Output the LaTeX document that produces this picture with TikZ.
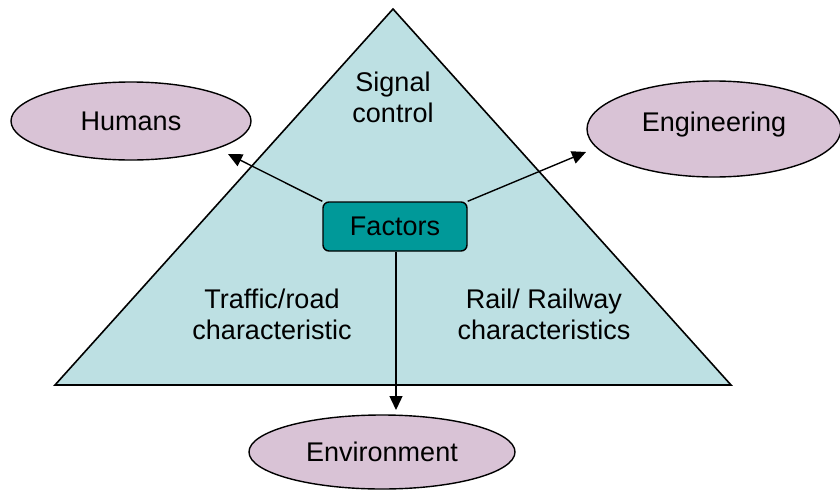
\documentclass[tikz,border=0pt]{standalone}
\usepackage{fontspec}
\setmainfont{Liberation Sans}
\usetikzlibrary{shapes.geometric,arrows.meta}
\definecolor{tri}{HTML}{BDE0E3}
\definecolor{ell}{HTML}{D9C3D6}
\definecolor{box}{HTML}{009999}
\tikzset{
  ellnode/.style={ellipse,draw=black,line width=1.4pt,fill=ell,minimum width=#1,font=\fontsize{27}{31}\selectfont,inner sep=0pt},
  arr/.style={line width=1.4pt,-{Triangle[length=14pt,width=13pt]}},
  lbl/.style={align=center,font=\fontsize{27}{31}\selectfont}
}
\begin{document}
\begin{tikzpicture}[x=1pt,y=-1pt]
\useasboundingbox (0,0) rectangle (840,490);
\coordinate (A) at (393,9);
\coordinate (B) at (55,385);
\coordinate (C) at (731,385);
\draw[line width=1.6pt,fill=tri] (A) -- (B) -- (C) -- cycle;
\node[ellnode=240pt,minimum height=78pt] (hum) at (131,121) {Humans};
\node[ellnode=254pt,minimum height=96pt] (eng) at (714,129) {\raisebox{15pt}{Engineering}};
\node[ellnode=266pt,minimum height=74pt] (env) at (382,452) {Environment};
\node[draw=black,line width=1.4pt,fill=box,rounded corners=6pt,minimum width=144pt,minimum height=49pt,font=\fontsize{27}{31}\selectfont] (fac) at (395,226.5) {Factors};
\node[lbl] (sig) at (393,97) {Signal\\control};
\node[lbl] (trf) at (272,314) {Traffic/road\\characteristic};
\node[lbl] (rail) at (544,314) {Rail/ Railway\\characteristics};
\coordinate (h) at (228,154);
\coordinate (e) at (586,152);
\coordinate (v) at (396,410);
\draw[arr] (fac.north west) -- (h);
\draw[arr] (fac.north east) -- (e);
\draw[arr] (fac.south) ++(1,0) coordinate (fs) -- (v);
\end{tikzpicture}
\end{document}
